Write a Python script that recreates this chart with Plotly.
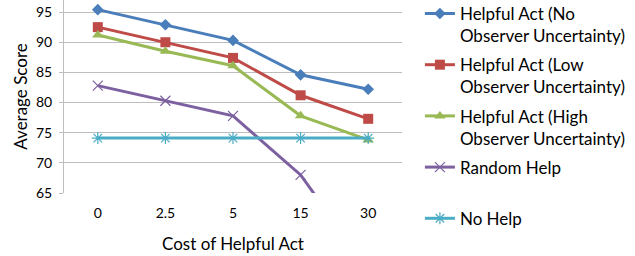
import plotly.graph_objects as go

categories = ["0", "2.5", "5", "15", "30"]
no_uncert = [95.4, 92.9, 90.3, 84.6, 82.2]
low_uncert = [92.5, 90.0, 87.4, 81.2, 77.3]
high_uncert = [91.2, 88.5, 86.1, 77.8, 73.8]
random_help = [82.8, 80.3, 77.8, 68.0, 52.4]
no_help = [74.1, 74.1, 74.1, 74.1, 74.1]

names = [
    "Helpful Act (No<br>Observer Uncertainty)",
    "Helpful Act (Low<br>Observer Uncertainty)",
    "Helpful Act (High<br>Observer Uncertainty)",
    "Random Help<br> ",
    "No Help",
]
series = [no_uncert, low_uncert, high_uncert, random_help, no_help]
colors = ["#4A7EBB", "#BE4B48", "#98B954", "#7D60A0", "#4BACC6"]
symbols = ["diamond", "square", "triangle-up", "x-thin-open", "asterisk-open"]
sizes = [9, 10, 10, 10, 10]

FONT = "Lato"
fig = go.Figure()
for i, (name, ys, c, s, sz) in enumerate(zip(names, series, colors, symbols, sizes)):
    marker = dict(symbol=s, size=sz, color=c)
    if s.endswith("open"):
        marker["line"] = dict(color=c, width=1.2)
    fig.add_trace(go.Scatter(
        x=categories, y=ys, name=name, mode="lines+markers",
        line=dict(color=c, width=3), marker=marker, legendgroup=f"g{i}",
    ))

fig.update_layout(
    width=635, height=256,
    margin=dict(l=64, r=233, t=0, b=63, autoexpand=False),
    paper_bgcolor="white", plot_bgcolor="white",
    font=dict(family=FONT, color="#000000"),
    showlegend=True,
    legend=dict(
        x=1.053, y=1.021, xanchor="left", yanchor="top",
        font=dict(family=FONT, size=17, color="#000000"),
        valign="top", tracegroupgap=4, itemwidth=30,
        bgcolor="rgba(0,0,0,0)", maxheight=1000,
    ),
    xaxis=dict(
        type="category", range=[-0.5, 4.5],
        showgrid=False, showline=False, ticks="",
        tickfont=dict(family=FONT, size=14), ticklabelstandoff=10,
        title=dict(text="Cost of Helpful Act", font=dict(family=FONT, size=17), standoff=18),
        zeroline=False,
    ),
    yaxis=dict(
        range=[65, 97], tickvals=[65, 70, 75, 80, 85, 90, 95],
        showgrid=True, gridcolor="#BEBEBE", gridwidth=1,
        showline=True, linecolor="#BEBEBE", linewidth=1,
        ticks="outside", ticklen=4, tickcolor="#BEBEBE",
        tickfont=dict(family=FONT, size=14), ticklabelstandoff=4,
        title=dict(text="Average Score", font=dict(family=FONT, size=17), standoff=4),
        zeroline=False,
    ),
)
fig.write_html("out.html", config={"displayModeBar": False},
               post_script="document.body.style.margin='0';")
